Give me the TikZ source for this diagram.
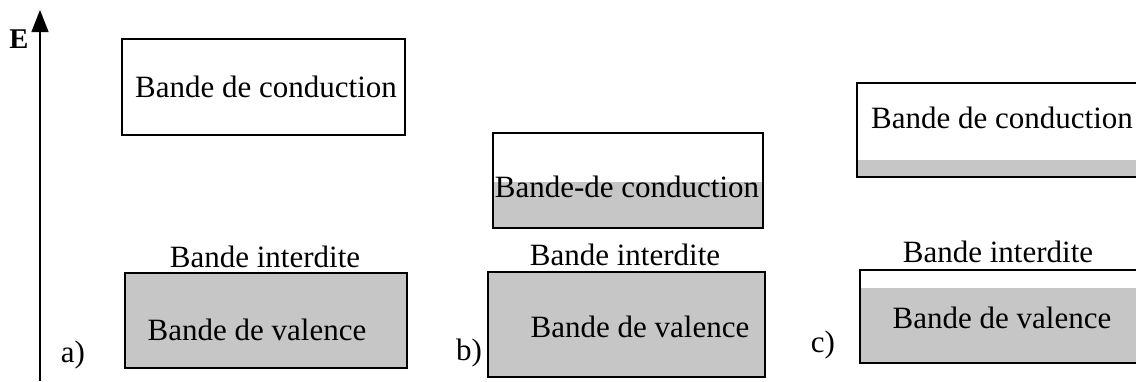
\documentclass[tikz,border=0pt]{standalone}
\usepackage{fontspec}
\setmainfont{Liberation Serif}
\usetikzlibrary{arrows.meta}
\definecolor{bandgray}{RGB}{198,198,198}
\begin{document}
\begin{tikzpicture}[x=1pt,y=-1pt,
  band/.style={draw=black, line width=1.3pt},
  lbl/.style={font=\fontsize{31}{36}\selectfont, inner sep=0pt, anchor=base}]
\useasboundingbox (0,0) rectangle (1136,381);
\clip (0,0) rectangle (1136,381);
% energy axis
\coordinate (axb) at (40,381);
\coordinate (axt) at (40,10);
\draw[line width=1.4pt, -{Triangle[length=22pt,width=17pt]}] (axb) -- (axt);
\node[font=\bfseries\fontsize{22}{26}\selectfont, inner sep=0pt, anchor=base, scale=1.3] (E) at (19,48) {E};
% a)
\draw[band] (122,39) rectangle (405,135);
\fill[bandgray] (125,273) rectangle (407,368);
\draw[band] (125,273) rectangle (407,368);
\node[lbl] (acond) at (266,97) {Bande de conduction};
\node[lbl] (agap) at (265,267) {Bande interdite};
\node[lbl] (aval) at (257,340) {Bande de valence};
\node[lbl] (alab) at (73,362) {a)};
% b)
\fill[bandgray] (493,182) rectangle (763,228);
\draw[band] (493,133) rectangle (763,228);
\fill[bandgray] (488,272) rectangle (765,377);
\draw[band] (488,272) rectangle (765,377);
\node[lbl] (bcond) at (627,197) {Bande-de conduction};
\node[lbl] (bgap) at (625,265) {Bande interdite};
\node[lbl] (bval) at (640,337) {Bande de valence};
\node[lbl] (blab) at (469,360) {b)};
% c)
\fill[bandgray] (857,160) rectangle (1145,177);
\draw[band] (857,83) rectangle (1145,177);
\fill[bandgray] (860,288) rectangle (1145,363);
\draw[band] (860,270) rectangle (1145,363);
\node[lbl] (ccond) at (1002,128) {Bande de conduction};
\node[lbl] (cgap) at (998,262) {Bande interdite};
\node[lbl] (cval) at (1002,328) {Bande de valence};
\node[lbl] (clab) at (823,352) {c)};
\end{tikzpicture}
\end{document}
